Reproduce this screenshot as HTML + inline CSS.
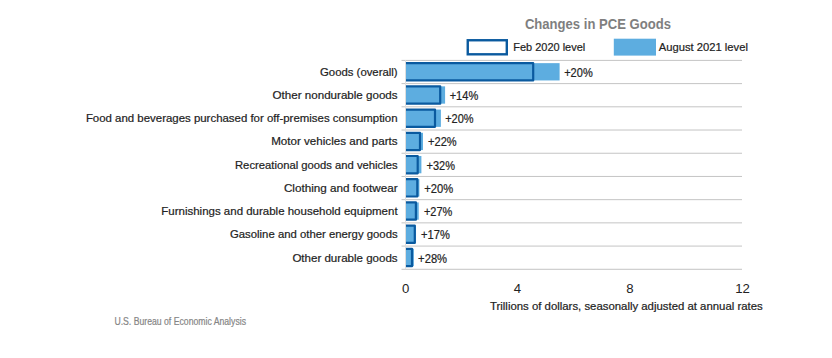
<!DOCTYPE html>
<html><head><meta charset="utf-8"><style>
html,body{margin:0;padding:0;background:#fff;width:832px;height:358px;overflow:hidden}
svg{display:block;font-family:"Liberation Sans",sans-serif}
</style></head><body>
<svg width="832" height="358" viewBox="0 0 832 358">
<line x1="401.5" y1="60.40" x2="742" y2="60.40" stroke="#c4c4c4" stroke-width="1"/>
<line x1="401.5" y1="83.61" x2="742" y2="83.61" stroke="#c4c4c4" stroke-width="1"/>
<line x1="401.5" y1="106.82" x2="742" y2="106.82" stroke="#c4c4c4" stroke-width="1"/>
<line x1="401.5" y1="130.03" x2="742" y2="130.03" stroke="#c4c4c4" stroke-width="1"/>
<line x1="401.5" y1="153.24" x2="742" y2="153.24" stroke="#c4c4c4" stroke-width="1"/>
<line x1="401.5" y1="176.45" x2="742" y2="176.45" stroke="#c4c4c4" stroke-width="1"/>
<line x1="401.5" y1="199.66" x2="742" y2="199.66" stroke="#c4c4c4" stroke-width="1"/>
<line x1="401.5" y1="222.87" x2="742" y2="222.87" stroke="#c4c4c4" stroke-width="1"/>
<line x1="401.5" y1="246.08" x2="742" y2="246.08" stroke="#c4c4c4" stroke-width="1"/>
<line x1="401.5" y1="269.29" x2="742" y2="269.29" stroke="#c4c4c4" stroke-width="1"/>
<line x1="405.5" y1="60" x2="405.5" y2="269.29" stroke="#dedede" stroke-width="1"/>
<rect x="406.0" y="63.15" width="153.61" height="17.3" fill="#5dade0"/>
<path d="M406.0 63.15 H533.19 V80.45 H406.0" fill="#5dade0" stroke="#0a5a9f" stroke-width="2.2" stroke-linejoin="round"/>
<rect x="406.0" y="86.36" width="39.09" height="17.3" fill="#5dade0"/>
<path d="M406.0 86.36 H440.19 V103.66 H406.0" fill="#5dade0" stroke="#0a5a9f" stroke-width="2.2" stroke-linejoin="round"/>
<rect x="406.0" y="109.57" width="34.89" height="17.3" fill="#5dade0"/>
<path d="M406.0 109.57 H435.00 V126.87 H406.0" fill="#5dade0" stroke="#0a5a9f" stroke-width="2.2" stroke-linejoin="round"/>
<rect x="406.0" y="132.78" width="17.00" height="17.3" fill="#5dade0"/>
<path d="M406.0 132.78 H420.00 V150.08 H406.0" fill="#5dade0" stroke="#0a5a9f" stroke-width="2.2" stroke-linejoin="round"/>
<rect x="406.0" y="155.99" width="15.40" height="17.3" fill="#5dade0"/>
<path d="M406.0 155.99 H417.70 V173.29 H406.0" fill="#5dade0" stroke="#0a5a9f" stroke-width="2.2" stroke-linejoin="round"/>
<rect x="406.0" y="179.20" width="13.38" height="17.3" fill="#5dade0"/>
<path d="M406.0 179.20 H417.30 V196.50 H406.0" fill="#5dade0" stroke="#0a5a9f" stroke-width="2.2" stroke-linejoin="round"/>
<rect x="406.0" y="202.41" width="12.71" height="17.3" fill="#5dade0"/>
<path d="M406.0 202.41 H415.90 V219.71 H406.0" fill="#5dade0" stroke="#0a5a9f" stroke-width="2.2" stroke-linejoin="round"/>
<rect x="406.0" y="225.62" width="10.02" height="17.3" fill="#5dade0"/>
<path d="M406.0 225.62 H414.78 V242.92 H406.0" fill="#5dade0" stroke="#0a5a9f" stroke-width="2.2" stroke-linejoin="round"/>
<rect x="406.0" y="248.83" width="7.86" height="17.3" fill="#5dade0"/>
<path d="M406.0 248.83 H412.01 V266.13 H406.0" fill="#5dade0" stroke="#0a5a9f" stroke-width="2.2" stroke-linejoin="round"/>
<text x="320.0" y="76" font-size="11" font-weight="400" fill="#222" stroke="#222" stroke-width="0.2" textLength="77.60" lengthAdjust="spacingAndGlyphs">Goods (overall)</text>
<text x="564.2" y="77.0" font-size="12.2" font-weight="400" fill="#222" stroke="#222" stroke-width="0.2" textLength="28.50" lengthAdjust="spacingAndGlyphs">+20%</text>
<text x="272.59999999999997" y="98.9" font-size="11" font-weight="400" fill="#222" stroke="#222" stroke-width="0.2" textLength="125.00" lengthAdjust="spacingAndGlyphs">Other nondurable goods</text>
<text x="449.7" y="99.9" font-size="12.2" font-weight="400" fill="#222" stroke="#222" stroke-width="0.2" textLength="28.50" lengthAdjust="spacingAndGlyphs">+14%</text>
<text x="85.9" y="122.2" font-size="11" font-weight="400" fill="#222" stroke="#222" stroke-width="0.2" textLength="311.70" lengthAdjust="spacingAndGlyphs">Food and beverages purchased for off-premises consumption</text>
<text x="445.2" y="123.2" font-size="12.2" font-weight="400" fill="#222" stroke="#222" stroke-width="0.2" textLength="28.40" lengthAdjust="spacingAndGlyphs">+20%</text>
<text x="271.2" y="145.2" font-size="11" font-weight="400" fill="#222" stroke="#222" stroke-width="0.2" textLength="126.40" lengthAdjust="spacingAndGlyphs">Motor vehicles and parts</text>
<text x="428.09999999999997" y="146.2" font-size="12.2" font-weight="400" fill="#222" stroke="#222" stroke-width="0.2" textLength="28.60" lengthAdjust="spacingAndGlyphs">+22%</text>
<text x="235.0" y="168.5" font-size="11" font-weight="400" fill="#222" stroke="#222" stroke-width="0.2" textLength="162.60" lengthAdjust="spacingAndGlyphs">Recreational goods and vehicles</text>
<text x="426.59999999999997" y="169.5" font-size="12.2" font-weight="400" fill="#222" stroke="#222" stroke-width="0.2" textLength="28.40" lengthAdjust="spacingAndGlyphs">+32%</text>
<text x="283.9" y="191.6" font-size="11" font-weight="400" fill="#222" stroke="#222" stroke-width="0.2" textLength="113.70" lengthAdjust="spacingAndGlyphs">Clothing and footwear</text>
<text x="424.2" y="192.6" font-size="12.2" font-weight="400" fill="#222" stroke="#222" stroke-width="0.2" textLength="28.90" lengthAdjust="spacingAndGlyphs">+20%</text>
<text x="161.3" y="214.9" font-size="11" font-weight="400" fill="#222" stroke="#222" stroke-width="0.2" textLength="236.30" lengthAdjust="spacingAndGlyphs">Furnishings and durable household equipment</text>
<text x="423.9" y="215.9" font-size="12.2" font-weight="400" fill="#222" stroke="#222" stroke-width="0.2" textLength="28.40" lengthAdjust="spacingAndGlyphs">+27%</text>
<text x="230.0" y="237.9" font-size="11" font-weight="400" fill="#222" stroke="#222" stroke-width="0.2" textLength="167.60" lengthAdjust="spacingAndGlyphs">Gasoline and other energy goods</text>
<text x="421.0" y="238.9" font-size="12.2" font-weight="400" fill="#222" stroke="#222" stroke-width="0.2" textLength="28.80" lengthAdjust="spacingAndGlyphs">+17%</text>
<text x="292.4" y="261.6" font-size="11" font-weight="400" fill="#222" stroke="#222" stroke-width="0.2" textLength="105.20" lengthAdjust="spacingAndGlyphs">Other durable goods</text>
<text x="418.09999999999997" y="262.6" font-size="12.2" font-weight="400" fill="#222" stroke="#222" stroke-width="0.2" textLength="29.00" lengthAdjust="spacingAndGlyphs">+28%</text>
<text x="524.9" y="28.9" font-size="15.2" font-weight="700" fill="#7f7f7f" stroke="#7f7f7f" stroke-width="0" textLength="146.10" lengthAdjust="spacingAndGlyphs">Changes in PCE Goods</text>
<text x="513.3" y="50.6" font-size="11" font-weight="400" fill="#222" stroke="#222" stroke-width="0.2" textLength="71.90" lengthAdjust="spacingAndGlyphs">Feb 2020 level</text>
<text x="658.8" y="50.6" font-size="11" font-weight="400" fill="#222" stroke="#222" stroke-width="0.2" textLength="89.10" lengthAdjust="spacingAndGlyphs">August 2021 level</text>
<text x="490" y="309.6" font-size="11" font-weight="400" fill="#222" stroke="#222" stroke-width="0.2" textLength="272.70" lengthAdjust="spacingAndGlyphs">Trillions of dollars, seasonally adjusted at annual rates</text>
<text x="114.4" y="324.8" font-size="10.2" font-weight="400" fill="#858585" stroke="#858585" stroke-width="0.2" textLength="131.60" lengthAdjust="spacingAndGlyphs">U.S. Bureau of Economic Analysis</text>
<text x="405.7" y="293" font-size="13.2" text-anchor="middle" fill="#222">0</text>
<text x="517.5" y="293" font-size="13.2" text-anchor="middle" fill="#222">4</text>
<text x="630" y="293" font-size="13.2" text-anchor="middle" fill="#222">8</text>
<text x="742.5" y="293" font-size="13.2" text-anchor="middle" fill="#222">12</text>
<rect x="467.75" y="40.25" width="39.05" height="14.05" fill="#fff" stroke="#0a5a9f" stroke-width="2.4"/>
<rect x="613.8" y="38.7" width="42.2" height="16.9" fill="#5dade0"/>
</svg>
</body></html>
